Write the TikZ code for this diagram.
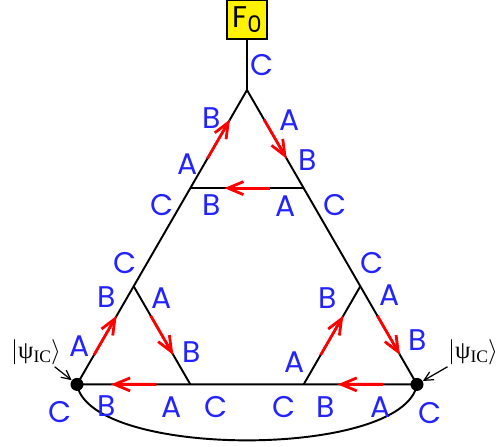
\documentclass[tikz,border=0pt]{standalone}
\usepackage{fontspec}
\newfontfamily\labelfont{Poppins}
\newfontfamily\ketfont{Liberation Serif}
\usetikzlibrary{arrows.meta, calc}
\definecolor{labelblue}{RGB}{35,35,255}

\begin{document}
\begin{tikzpicture}[
    x=0.02cm, y=-0.02cm,
    edge/.style={line width=1.1pt},
    flow/.style={-{Straight Barb[length=3.1mm, width=2.6mm]}, red, line width=1.6pt},
    lbl/.style={text=labelblue, font=\labelfont\fontsize{17}{19}\selectfont, inner sep=0pt},
    junction/.style={circle, fill=black, inner sep=0pt, minimum size=0.26cm},
    source/.style={rectangle, draw, line width=0.8pt, fill=yellow, minimum width=0.8cm, minimum height=0.78cm, inner sep=0pt, font=\labelfont\fontsize{17}{19}\selectfont},
    state/.style={font=\ketfont\fontsize{14}{16}\selectfont, inner sep=1pt},
    ket/.style={-{Straight Barb[length=1.8mm, width=1.8mm]}, line width=0.7pt},
]
\useasboundingbox (0,0) rectangle (500,446);

% Outer triangle
\coordinate (top) at (247,90);
\coordinate (bl) at (77,384.4);
\coordinate (br) at (417,384.4);

% Corner triangles at thirds
\coordinate (l1) at ($(top)!1/3!(bl)$);
\coordinate (l2) at ($(top)!2/3!(bl)$);
\coordinate (r1) at ($(top)!1/3!(br)$);
\coordinate (r2) at ($(top)!2/3!(br)$);
\coordinate (b1) at ($(bl)!1/3!(br)$);
\coordinate (b2) at ($(bl)!2/3!(br)$);

\node[source] (f0) at (247,19.5) {F\raisebox{-0.35ex}{\fontsize{13}{14}\selectfont 0}};

\draw[edge] (f0.south) -- (top);
\draw[edge] (bl) -- (top) -- (br) -- (bl);
\draw[edge] (l1) -- (r1);
\draw[edge] (l2) -- (b1);
\draw[edge] (r2) -- (b2);
\draw[edge] (bl) .. controls (90,459) and (404,459) .. (br);

% Circulating flows
\draw[flow] ($(l1)!0.3!(top)$) -- ($(l1)!0.7!(top)$);
\draw[flow] ($(top)!0.3!(r1)$) -- ($(top)!0.7!(r1)$);
\draw[flow] ($(r1)!0.3!(l1)$) -- ($(r1)!0.7!(l1)$);
\draw[flow] ($(bl)!0.3!(l2)$) -- ($(bl)!0.7!(l2)$);
\draw[flow] ($(l2)!0.3!(b1)$) -- ($(l2)!0.7!(b1)$);
\draw[flow] ($(b1)!0.3!(bl)$) -- ($(b1)!0.7!(bl)$);
\draw[flow] ($(b2)!0.3!(r2)$) -- ($(b2)!0.7!(r2)$);
\draw[flow] ($(r2)!0.3!(br)$) -- ($(r2)!0.7!(br)$);
\draw[flow] ($(br)!0.3!(b2)$) -- ($(br)!0.7!(b2)$);

% Junctions and input states
\node[junction] (jl) at (bl) {};
\node[junction] (jr) at (br) {};
\node[state] (psil) at (36,352) {$|$ψ\raisebox{-0.4ex}{\fontsize{10}{11}\selectfont IC}$\rangle$};
\node[state] (psir) at (473,352) {$|$ψ\raisebox{-0.4ex}{\fontsize{10}{11}\selectfont IC}$\rangle$};
\draw[ket] (psil) -- (jl);
\draw[ket] (psir) -- (jr);

% Labels
\node[lbl] (cf) at (262,65) {C};

\node[lbl] (bt1) at (212,118) {B};
\node[lbl] (at1) at (290,120) {A};
\node[lbl] (at2) at (188,164) {A};
\node[lbl] (bt2) at (308,160) {B};
\node[lbl] (ct1) at (162,205) {C};
\node[lbl] (bt3) at (212,205) {B};
\node[lbl] (at3) at (286,206) {A};
\node[lbl] (ct2) at (335,205) {C};

\node[lbl] (cl1) at (125,263) {C};
\node[lbl] (bl1) at (107,297) {B};
\node[lbl] (al1) at (162,298) {A};
\node[lbl] (al2) at (80,346) {A};
\node[lbl] (bl2) at (192,352) {B};
\node[lbl] (bl3) at (107,406) {B};
\node[lbl] (al3) at (172,407) {A};
\node[lbl] (cl2) at (216,407) {C};
\node[lbl] (cl3) at (60,412) {C};

\node[lbl] (cr1) at (372,263) {C};
\node[lbl] (br1) at (328,298) {B};
\node[lbl] (ar1) at (390,295) {A};
\node[lbl] (ar2) at (295,362) {A};
\node[lbl] (br2) at (418,340) {B};
\node[lbl] (cr2) at (284,407) {C};
\node[lbl] (br3) at (326,407) {B};
\node[lbl] (ar3) at (381,407) {A};
\node[lbl] (cr3) at (430,413) {C};

\end{tikzpicture}
\end{document}
